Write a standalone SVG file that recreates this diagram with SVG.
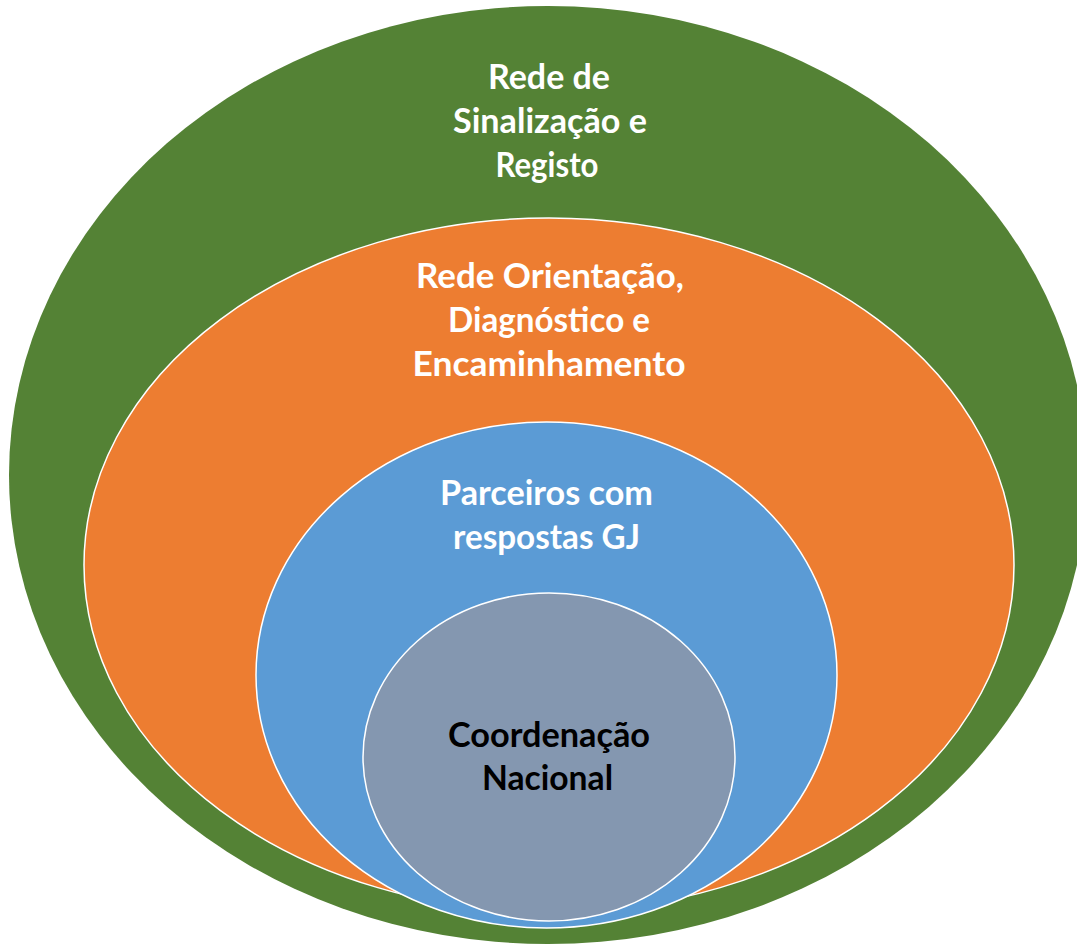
<svg xmlns="http://www.w3.org/2000/svg" width="1077" height="946" viewBox="0 0 1077 946">
<style>
  .ring { stroke: #FFFFFF; stroke-width: 1.5; }
  .lbl { font-family: "Lato", "Liberation Sans", sans-serif; font-weight: bold; font-size: 34px; text-anchor: middle; }
  .w { fill: #FFFFFF; }
  .k { fill: #000000; }
</style>
<rect x="0" y="0" width="1077" height="946" fill="#FFFFFF"/>
<g id="node-sinalizacao">
  <ellipse cx="548" cy="475" rx="539" ry="469" fill="#548235"/>
  <text class="lbl w" x="549" y="89" textLength="122" lengthAdjust="spacingAndGlyphs">Rede de</text>
  <text class="lbl w" x="550" y="133" textLength="194" lengthAdjust="spacingAndGlyphs">Sinalização e</text>
  <text class="lbl w" x="547" y="177" textLength="103" lengthAdjust="spacingAndGlyphs">Registo</text>
</g>
<g id="node-orientacao">
  <ellipse class="ring" cx="549" cy="565" rx="465" ry="347" fill="#ED7D31"/>
  <text class="lbl w" x="550" y="288" textLength="268" lengthAdjust="spacingAndGlyphs">Rede Orientação,</text>
  <text class="lbl w" x="549" y="332" textLength="202" lengthAdjust="spacingAndGlyphs">Diagnóstico e</text>
  <text class="lbl w" x="549" y="376" textLength="273" lengthAdjust="spacingAndGlyphs">Encaminhamento</text>
</g>
<g id="node-parceiros">
  <ellipse class="ring" cx="546.5" cy="675" rx="290.5" ry="253" fill="#5B9BD5"/>
  <text class="lbl w" x="546.5" y="505" textLength="213" lengthAdjust="spacingAndGlyphs">Parceiros com</text>
  <text class="lbl w" x="546.5" y="549" textLength="187" lengthAdjust="spacingAndGlyphs">respostas GJ</text>
</g>
<g id="node-coordenacao">
  <ellipse class="ring" cx="549" cy="757" rx="186" ry="164" fill="#8497B0"/>
  <text class="lbl k" x="549" y="747" textLength="202" lengthAdjust="spacingAndGlyphs">Coordenação</text>
  <text class="lbl k" x="547.5" y="790" textLength="131" lengthAdjust="spacingAndGlyphs">Nacional</text>
</g>
<g id="connectors"></g>
</svg>
